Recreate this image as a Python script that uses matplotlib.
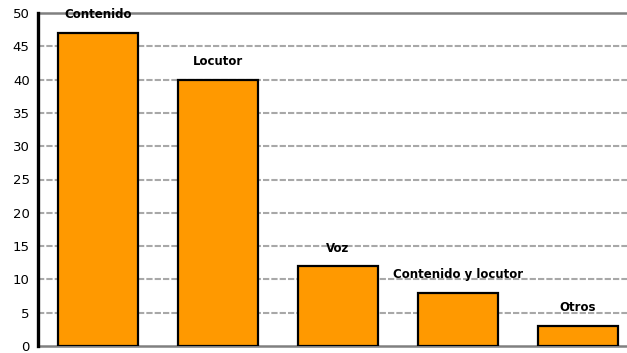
import matplotlib
matplotlib.use("Agg")
import matplotlib.pyplot as plt

categorias = ["Contenido", "Locutor", "Voz", "Contenido y locutor", "Otros"]
valores = [47, 40, 12, 8, 3]
marcas_y = [0, 5, 10, 15, 20, 25, 30, 35, 40, 45, 50]

fig = plt.figure(figsize=(6.27, 3.53), dpi=100)
ax = fig.add_axes([38 / 627, 7 / 353, 1 - 38 / 627, 333 / 353])

x = range(len(categorias))
barras = ax.bar(x, valores, width=0.667, color="#FF9900",
                edgecolor="black", linewidth=1.6, zorder=3)

for xi, v, nombre in zip(x, valores, categorias):
    ax.annotate(nombre, (xi, v), xytext=(0, 13), textcoords="offset points",
                ha="center", va="center", fontsize=8.5, fontweight="bold")

ax.set_xlim(-0.5, 4.41)
ax.set_ylim(0, 50)
ax.set_yticks(marcas_y)
ax.set_yticklabels([str(m) for m in marcas_y], fontsize=9.5)
ax.set_xticks([])
ax.tick_params(axis="y", length=0, pad=6)

# lineas de referencia punteadas
for m in marcas_y[1:-1]:
    ax.axhline(m, color="#a8a8a8", linewidth=1.5, dashes=(3, 1), zorder=1)

ax.spines["right"].set_visible(False)
ax.spines["top"].set_color("#808080")
ax.spines["top"].set_linewidth(1.8)
ax.spines["bottom"].set_color("#808080")
ax.spines["bottom"].set_linewidth(1.8)
ax.spines["left"].set_color("black")
ax.spines["left"].set_linewidth(2.4)
ax.spines["left"].set_zorder(4)

fig.savefig("out.png", dpi=100)
